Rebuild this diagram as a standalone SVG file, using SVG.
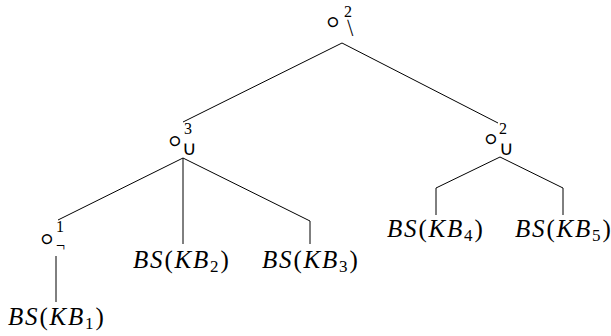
<svg xmlns="http://www.w3.org/2000/svg" width="611" height="336" viewBox="0 0 611 336">
<style>
.e{fill:none;stroke:#000;stroke-width:1}
.lbl{font-family:"Liberation Serif","Times New Roman",Times,serif;font-size:25px;font-style:italic;letter-spacing:1.8px}
.up{font-style:normal}
.sub{font-size:17px;font-style:normal}
.nd{font-family:"Liberation Serif","Times New Roman",serif;font-size:16px}
.op{font-family:"DejaVu Sans",sans-serif;font-size:38px;font-weight:200}
.sym{font-family:"DejaVu Sans",sans-serif;font-size:20px;font-weight:200}
</style>
<rect width="611" height="336" fill="#fff"/>
<g id="connectors">
<polyline class="e" points="183,122 342,43 498,123"/>
<line class="e" x1="183" y1="158" x2="58" y2="220"/>
<line class="e" x1="183" y1="158" x2="183" y2="244"/>
<polyline class="e" points="183,158 310,221 310,244"/>
<line class="e" x1="56" y1="256" x2="56" y2="302"/>
<polyline class="e" points="436,215 436,188 500,157 563,188 563,215"/>
</g>
<g id="root">
<text class="nd"><tspan class="op" x="333" y="34" text-anchor="middle">∘</tspan><tspan x="344" y="17">2</tspan><tspan class="sym" x="343" y="35">∖</tspan></text>
</g>
<g id="union3">
<text class="nd"><tspan class="op" x="175" y="153" text-anchor="middle">∘</tspan><tspan x="184" y="134">3</tspan><tspan class="sym" x="182" y="155">∪</tspan></text>
</g>
<g id="union2">
<text class="nd"><tspan class="op" x="491" y="151" text-anchor="middle">∘</tspan><tspan x="499" y="134">2</tspan><tspan class="sym" x="499" y="155">∪</tspan></text>
</g>
<g id="neg1">
<text class="nd"><tspan class="op" x="47" y="251" text-anchor="middle">∘</tspan><tspan x="56" y="232">1</tspan><tspan x="56" y="251">¬</tspan></text>
</g>
<g id="kb1"><text class="lbl" x="8" y="325">BS<tspan class="up">(</tspan>KB<tspan class="sub" dy="4">1</tspan><tspan class="up" dy="-4">)</tspan></text></g>
<g id="kb2"><text class="lbl" x="133" y="268">BS<tspan class="up">(</tspan>KB<tspan class="sub" dy="4">2</tspan><tspan class="up" dy="-4">)</tspan></text></g>
<g id="kb3"><text class="lbl" x="262" y="268">BS<tspan class="up">(</tspan>KB<tspan class="sub" dy="4">3</tspan><tspan class="up" dy="-4">)</tspan></text></g>
<g id="kb4"><text class="lbl" x="387" y="237">BS<tspan class="up">(</tspan>KB<tspan class="sub" dy="4">4</tspan><tspan class="up" dy="-4">)</tspan></text></g>
<g id="kb5"><text class="lbl" x="515" y="237">BS<tspan class="up">(</tspan>KB<tspan class="sub" dy="4">5</tspan><tspan class="up" dy="-4">)</tspan></text></g>
</svg>
